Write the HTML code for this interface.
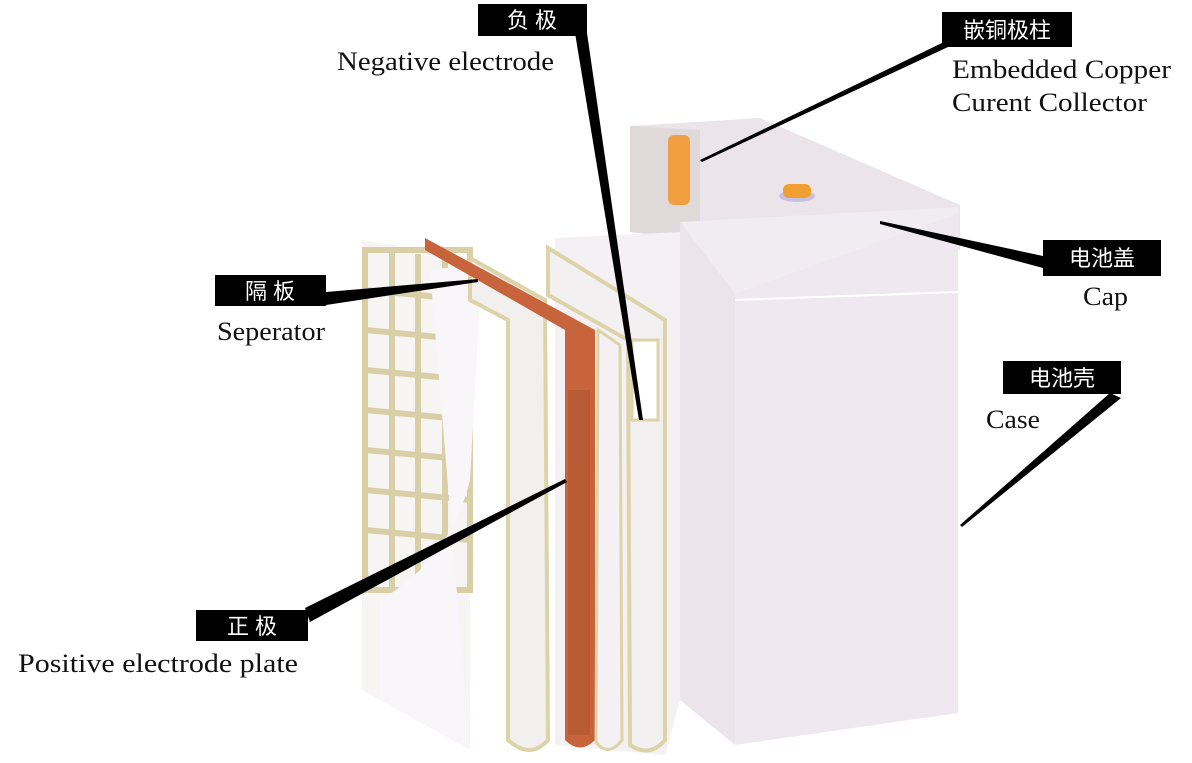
<!DOCTYPE html>
<html><head><meta charset="utf-8"><style>
html,body{margin:0;padding:0;background:#fff;}
svg{display:block}
.en{font-family:"Liberation Serif","DejaVu Serif",serif;font-size:26px;fill:#111;}
.cn{font-family:"Liberation Sans","Noto Sans CJK SC",sans-serif;font-size:22px;fill:#fff;}
</style></head><body>
<svg width="1192" height="763" viewBox="0 0 1192 763" xmlns="http://www.w3.org/2000/svg">
<polygon points="630,126 760,118 960,205 960,250 700,240 630,232" fill="#ebe5ea"/>
<polygon points="630,126 700,130 700,240 630,232" fill="#e0d9da"/>
<rect x="668" y="135" width="22" height="70" rx="6" fill="#f0a040"/>
<ellipse cx="797" cy="196" rx="18" ry="6" fill="#c8c0e0"/>
<rect x="783" y="184" width="28" height="14" rx="6" fill="#f0a030"/>
<polygon points="680,222 958,207 958,214 735,293" fill="#f1ecf1"/>
<polygon points="680,222 735,293 735,745 680,700" fill="#ebe4eb"/>
<polygon points="735,293 958,214 958,713 735,745" fill="#efe8f0"/>
<line x1="735" y1="300" x2="958" y2="292" stroke="#fff" stroke-width="2"/>
<polygon points="555,238 680,232 680,700 665,755 555,745" fill="#f4f0f3"/>
<polygon points="362,240 470,258 470,750 362,690" fill="#f7f4f4"/>
<g stroke="#d8cfa6" stroke-width="6" fill="none">
<rect x="365" y="250" width="105" height="340"/>
<line x1="392" y1="250" x2="392" y2="590"/><line x1="418" y1="254" x2="418" y2="590"/><line x1="445" y1="258" x2="445" y2="590"/>
<line x1="365" y1="290" x2="470" y2="300"/><line x1="365" y1="330" x2="470" y2="340"/><line x1="365" y1="370" x2="470" y2="380"/>
<line x1="365" y1="410" x2="470" y2="420"/><line x1="365" y1="450" x2="470" y2="460"/><line x1="365" y1="490" x2="470" y2="500"/><line x1="365" y1="530" x2="470" y2="540"/>
</g>
<path d="M430,270 Q480,260 480,300 L470,480 Q450,560 380,600 L380,700 L470,750 Z" fill="#f8f6f8"/>
<path d="M470,258 L545,300 L548,740 Q530,760 508,740 L508,320 L470,300Z" fill="#f2efef" stroke="#ddd3a8" stroke-width="4"/>
<path d="M425,238 L595,330 L595,740 Q580,755 565,740 L565,330 L425,250Z" fill="#c8643c"/>
<rect x="568" y="390" width="22" height="345" fill="#b85a34"/>
<path d="M598,330 L620,345 L622,740 Q608,758 596,742Z" fill="#f4f0f3" stroke="#ddd3a8" stroke-width="3"/>
<path d="M548,248 L665,320 L665,740 Q650,758 630,745 L628,340 L548,295Z" fill="#f3f0f2" stroke="#ddd3a8" stroke-width="4"/>
<rect x="632" y="340" width="26" height="80" fill="#fff" stroke="#ddd3a8" stroke-width="3"/>
<g fill="#000">
<polygon points="575,33 587,33 643,420 639,420"/>
<polygon points="944,42 948,47 702,162 700,160"/>
<polygon points="1043,256 1043,268 880,224 880,221"/>
<polygon points="326,292 326,305 478,282 478,279"/>
<polygon points="1110,393 1121,398 962,527 960,525"/>
<polygon points="305,608 310,622 567,482 565,479"/>
</g>
<rect x="478" y="4" width="109" height="32" fill="#000"/><text x="532" y="28" class="cn" text-anchor="middle">负   极</text>
<rect x="942" y="12" width="130" height="35" fill="#000"/><text x="1007" y="38" class="cn" text-anchor="middle">嵌铜极柱</text>
<rect x="1043" y="240" width="118" height="36" fill="#000"/><text x="1102" y="266" class="cn" text-anchor="middle">电池盖</text>
<rect x="215" y="275" width="111" height="31" fill="#000"/><text x="270" y="299" class="cn" text-anchor="middle">隔   板</text>
<rect x="1003" y="361" width="118" height="33" fill="#000"/><text x="1062" y="386" class="cn" text-anchor="middle">电池壳</text>
<rect x="196" y="610" width="112" height="31" fill="#000"/><text x="252" y="634" class="cn" text-anchor="middle">正   极</text>
<text x="337" y="70" class="en" textLength="217" lengthAdjust="spacingAndGlyphs">Negative  electrode</text>
<text x="952" y="78" class="en" textLength="219" lengthAdjust="spacingAndGlyphs">Embedded  Copper</text>
<text x="952" y="111" class="en" textLength="195" lengthAdjust="spacingAndGlyphs">Curent  Collector</text>
<text x="1083" y="305" class="en" textLength="45" lengthAdjust="spacingAndGlyphs">Cap</text>
<text x="217" y="340" class="en" textLength="108" lengthAdjust="spacingAndGlyphs">Seperator</text>
<text x="986" y="428" class="en" textLength="54" lengthAdjust="spacingAndGlyphs">Case</text>
<text x="18" y="672" class="en" textLength="280" lengthAdjust="spacingAndGlyphs">Positive  electrode  plate</text>
</svg>
</body></html>
